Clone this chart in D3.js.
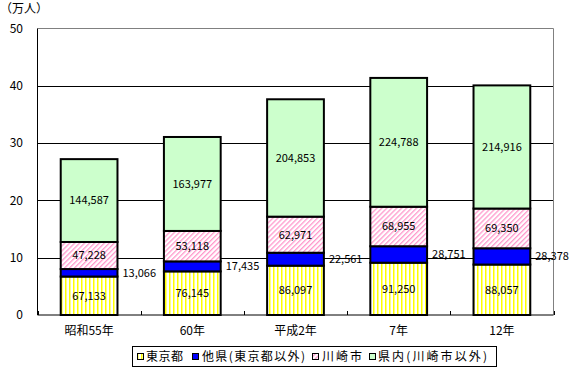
<!DOCTYPE html>
<html>
<head>
<meta charset="utf-8">
<script src="https://cdn.jsdelivr.net/npm/d3@7"></script>
<style>
  body { margin: 0; background: #fff; }
  text { font-family: "Noto Sans CJK JP", "DejaVu Sans", sans-serif; fill: #000; }
</style>
</head>
<body>
<div id="chart"></div>
<script>
// data (people), axis in 万人
var categories = ['昭和55年', '60年', '平成2年', '7年', '12年'];
var tokyo    = [67133, 76145, 86097, 91250, 88057];
var otherPref = [13066, 17435, 22561, 28751, 28378];
var kawasaki = [47228, 53118, 62971, 68955, 69350];
var kennai   = [144587, 163977, 204853, 224788, 214916];
var seriesNames = ['東京都', '他県(東京都以外)', '川崎市', '県内(川崎市以外)'];
var yTicks = [0, 10, 20, 30, 40, 50];

var W = 571, H = 373;
var plot = {left: 37.5, right: 553.5, top: 28.5, bottom: 315};

var svg = d3.select('#chart').append('svg')
  .attr('width', W).attr('height', H);

var defs = svg.append('defs');
// yellow vertical stripes
var pv = defs.append('pattern').attr('id', 'vstripe')
  .attr('patternUnits', 'userSpaceOnUse').attr('width', 4).attr('height', 4);
pv.append('rect').attr('width', 4).attr('height', 4).attr('fill', '#fff');
pv.append('rect').attr('x', 1).attr('width', 1.5).attr('height', 4).attr('fill', '#ffff00');
// pink diagonal hatch
var ph = defs.append('pattern').attr('id', 'hatch')
  .attr('patternUnits', 'userSpaceOnUse').attr('width', 3.5).attr('height', 3.5)
  .attr('patternTransform', 'rotate(45)');
ph.append('rect').attr('width', 3.5).attr('height', 3.5).attr('fill', '#fff');
ph.append('rect').attr('width', 1.3).attr('height', 3.5).attr('fill', '#ff99cc');

var fills = ['url(#vstripe)', '#0000ff', 'url(#hatch)', '#ccffcc'];

var x = d3.scaleBand().domain(categories).range([plot.left, plot.right]).paddingInner(0.45).paddingOuter(0.225);
var y = d3.scaleLinear().domain([0, 50]).range([plot.bottom, plot.top]);

// gridlines
svg.append('g').selectAll('line')
  .data(yTicks.filter(function(d) { return d > 0 && d < 50; }))
  .enter().append('line')
  .attr('x1', plot.left).attr('x2', plot.right)
  .attr('y1', function(d) { return Math.round(y(d)) + 0.5; })
  .attr('y2', function(d) { return Math.round(y(d)) + 0.5; })
  .attr('stroke', '#000').attr('stroke-width', 1);

// top and right border (gray)
svg.append('path')
  .attr('d', 'M' + plot.left + ',' + plot.top + 'H' + plot.right + 'V' + plot.bottom)
  .attr('fill', 'none').attr('stroke', '#808080').attr('stroke-width', 1);

// y labels
svg.append('g').selectAll('text')
  .data(yTicks).enter().append('text')
  .attr('x', 23).attr('y', function(d) { return y(d); })
  .attr('dy', '0.35em').attr('text-anchor', 'end')
  .style('font-size', '12px')
  .text(function(d) { return d; });

svg.append('text').attr('x', 0).attr('y', 9).attr('dy', '0.35em')
  .style('font-size', '12px').text('（万人）');

// stacked data
var rows = categories.map(function(c, i) {
  return {cat: c, vals: [tokyo[i], otherPref[i], kawasaki[i], kennai[i]]};
});

var bars = svg.append('g');
rows.forEach(function(r) {
  var base = 0;
  r.vals.forEach(function(v, k) {
    var y0 = y(base / 10000), y1 = y((base + v) / 10000);
    bars.append('rect')
      .attr('x', x(r.cat)).attr('width', x.bandwidth())
      .attr('y', y1).attr('height', y0 - y1)
      .attr('fill', fills[k])
      .attr('stroke', '#000').attr('stroke-width', 2);
    var lbl = d3.format(',')(v);
    if (k === 1) {
      bars.append('text')
        .attr('x', x(r.cat) + x.bandwidth() + 5).attr('y', (y0 + y1) / 2)
        .attr('dy', '0.35em').style('font-size', '11px').text(lbl);
    } else {
      bars.append('text')
        .attr('x', x(r.cat) + x.bandwidth() / 2).attr('y', (y0 + y1) / 2)
        .attr('dy', '0.35em').attr('text-anchor', 'middle')
        .style('font-size', '11px').text(lbl);
    }
    base += v;
  });
});

// axes lines
svg.append('line').attr('x1', plot.left).attr('x2', plot.left)
  .attr('y1', plot.top).attr('y2', plot.bottom).attr('stroke', '#000');
svg.append('line').attr('x1', plot.left).attr('x2', plot.right)
  .attr('y1', plot.bottom).attr('y2', plot.bottom).attr('stroke', '#000');

// inward x ticks at category boundaries
var step = x.step();
svg.append('g').selectAll('line')
  .data(d3.range(categories.length + 1)).enter().append('line')
  .attr('x1', function(i) { return Math.round(plot.left + i * step) + 0.5; })
  .attr('x2', function(i) { return Math.round(plot.left + i * step) + 0.5; })
  .attr('y1', plot.bottom - 4).attr('y2', plot.bottom)
  .attr('stroke', '#000');

// x labels
svg.append('g').selectAll('text')
  .data(categories).enter().append('text')
  .attr('x', function(d) { return x(d) + x.bandwidth() / 2; })
  .attr('y', 331).attr('dy', '0.35em').attr('text-anchor', 'middle')
  .style('font-size', '12px')
  .text(function(d) { return d; });

// legend
var leg = svg.append('g');
leg.append('rect').attr('x', 132.5).attr('y', 346.5).attr('width', 364).attr('height', 20)
  .attr('fill', '#fff').attr('stroke', '#000');
var legMarkX = [137, 192, 312, 369];
var legTextX = [146, 202, 322, 378];
var legTextW = [37, 103, 40, 109];
seriesNames.forEach(function(n, k) {
  leg.append('rect').attr('x', legMarkX[k] + 0.5).attr('y', 353.5).attr('width', 6).attr('height', 6)
    .attr('fill', fills[k]).attr('stroke', '#000').attr('stroke-width', 1);
  leg.append('text').attr('x', legTextX[k]).attr('y', 356.5).attr('dy', '0.35em')
    .attr('textLength', legTextW[k]).attr('lengthAdjust', 'spacing')
    .style('font-size', '12px').text(n);
});
</script>
</body>
</html>
